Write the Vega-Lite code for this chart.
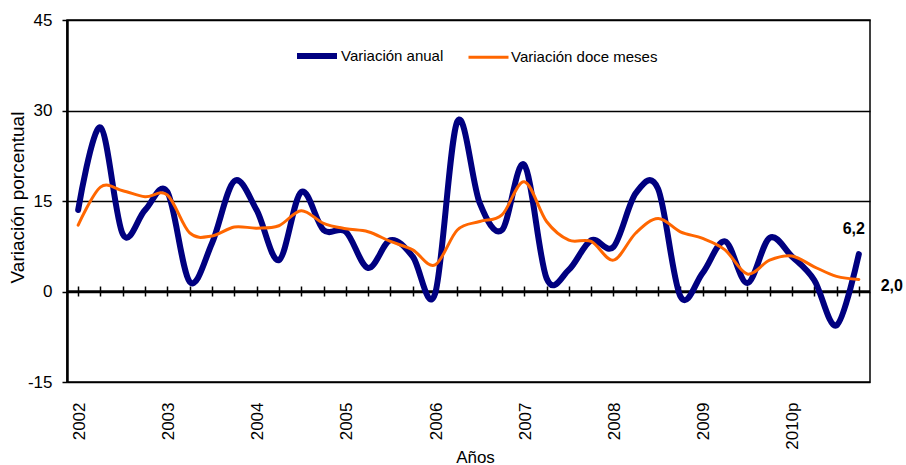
{
  "$schema": "https://vega.github.io/schema/vega-lite/v6.json",
  "width": 803,
  "height": 362,
  "autosize": {"type": "none"},
  "padding": {"left": 67, "top": 20, "right": 36, "bottom": 83},
  "config": {
    "font": "Liberation Sans",
    "view": {"stroke": "#000000", "strokeWidth": 1.5},
    "locale": {"number": {"decimal": ",", "thousands": ".", "grouping": [3], "currency": ["$", ""], "minus": "-"}}
  },
  "datasets": {
    "serie": [
      {"p": "2002 T1", "serie": "Variación anual", "v": 13.5},
      {"p": "2002 T2", "serie": "Variación anual", "v": 27.2},
      {"p": "2002 T3", "serie": "Variación anual", "v": 9.5},
      {"p": "2002 T4", "serie": "Variación anual", "v": 13.5},
      {"p": "2003 T1", "serie": "Variación anual", "v": 16.5},
      {"p": "2003 T2", "serie": "Variación anual", "v": 1.6},
      {"p": "2003 T3", "serie": "Variación anual", "v": 8.0},
      {"p": "2003 T4", "serie": "Variación anual", "v": 18.3},
      {"p": "2004 T1", "serie": "Variación anual", "v": 13.5},
      {"p": "2004 T2", "serie": "Variación anual", "v": 5.2},
      {"p": "2004 T3", "serie": "Variación anual", "v": 16.5},
      {"p": "2004 T4", "serie": "Variación anual", "v": 10.2},
      {"p": "2005 T1", "serie": "Variación anual", "v": 9.9},
      {"p": "2005 T2", "serie": "Variación anual", "v": 3.9},
      {"p": "2005 T3", "serie": "Variación anual", "v": 8.5},
      {"p": "2005 T4", "serie": "Variación anual", "v": 5.8},
      {"p": "2006 T1", "serie": "Variación anual", "v": -0.4},
      {"p": "2006 T2", "serie": "Variación anual", "v": 28.2},
      {"p": "2006 T3", "serie": "Variación anual", "v": 14.7},
      {"p": "2006 T4", "serie": "Variación anual", "v": 10.2},
      {"p": "2007 T1", "serie": "Variación anual", "v": 21.0},
      {"p": "2007 T2", "serie": "Variación anual", "v": 2.2},
      {"p": "2007 T3", "serie": "Variación anual", "v": 3.6},
      {"p": "2007 T4", "serie": "Variación anual", "v": 8.5},
      {"p": "2008 T1", "serie": "Variación anual", "v": 7.4},
      {"p": "2008 T2", "serie": "Variación anual", "v": 16.3},
      {"p": "2008 T3", "serie": "Variación anual", "v": 17.0},
      {"p": "2008 T4", "serie": "Variación anual", "v": -0.8},
      {"p": "2009 T1", "serie": "Variación anual", "v": 3.1},
      {"p": "2009 T2", "serie": "Variación anual", "v": 8.3},
      {"p": "2009 T3", "serie": "Variación anual", "v": 1.4},
      {"p": "2009 T4", "serie": "Variación anual", "v": 8.9},
      {"p": "2010p T1", "serie": "Variación anual", "v": 5.8},
      {"p": "2010p T2", "serie": "Variación anual", "v": 1.9},
      {"p": "2010p T3", "serie": "Variación anual", "v": -5.6},
      {"p": "2010p T4", "serie": "Variación anual", "v": 6.2},
      {"p": "2002 T1", "serie": "Variación doce meses", "v": 11.0},
      {"p": "2002 T2", "serie": "Variación doce meses", "v": 17.3},
      {"p": "2002 T3", "serie": "Variación doce meses", "v": 16.7},
      {"p": "2002 T4", "serie": "Variación doce meses", "v": 15.7},
      {"p": "2003 T1", "serie": "Variación doce meses", "v": 16.0},
      {"p": "2003 T2", "serie": "Variación doce meses", "v": 9.7},
      {"p": "2003 T3", "serie": "Variación doce meses", "v": 9.2},
      {"p": "2003 T4", "serie": "Variación doce meses", "v": 10.7},
      {"p": "2004 T1", "serie": "Variación doce meses", "v": 10.5},
      {"p": "2004 T2", "serie": "Variación doce meses", "v": 10.9},
      {"p": "2004 T3", "serie": "Variación doce meses", "v": 13.4},
      {"p": "2004 T4", "serie": "Variación doce meses", "v": 11.3},
      {"p": "2005 T1", "serie": "Variación doce meses", "v": 10.4},
      {"p": "2005 T2", "serie": "Variación doce meses", "v": 9.9},
      {"p": "2005 T3", "serie": "Variación doce meses", "v": 8.3},
      {"p": "2005 T4", "serie": "Variación doce meses", "v": 6.9},
      {"p": "2006 T1", "serie": "Variación doce meses", "v": 4.4},
      {"p": "2006 T2", "serie": "Variación doce meses", "v": 10.2},
      {"p": "2006 T3", "serie": "Variación doce meses", "v": 11.6},
      {"p": "2006 T4", "serie": "Variación doce meses", "v": 12.7},
      {"p": "2007 T1", "serie": "Variación doce meses", "v": 18.2},
      {"p": "2007 T2", "serie": "Variación doce meses", "v": 11.6},
      {"p": "2007 T3", "serie": "Variación doce meses", "v": 8.5},
      {"p": "2007 T4", "serie": "Variación doce meses", "v": 8.3},
      {"p": "2008 T1", "serie": "Variación doce meses", "v": 5.2},
      {"p": "2008 T2", "serie": "Variación doce meses", "v": 9.7},
      {"p": "2008 T3", "serie": "Variación doce meses", "v": 12.1},
      {"p": "2008 T4", "serie": "Variación doce meses", "v": 9.9},
      {"p": "2009 T1", "serie": "Variación doce meses", "v": 8.8},
      {"p": "2009 T2", "serie": "Variación doce meses", "v": 6.9},
      {"p": "2009 T3", "serie": "Variación doce meses", "v": 2.9},
      {"p": "2009 T4", "serie": "Variación doce meses", "v": 5.2},
      {"p": "2010p T1", "serie": "Variación doce meses", "v": 5.9},
      {"p": "2010p T2", "serie": "Variación doce meses", "v": 4.1},
      {"p": "2010p T3", "serie": "Variación doce meses", "v": 2.5},
      {"p": "2010p T4", "serie": "Variación doce meses", "v": 2.0}
    ]
  },
  "resolve": {"axis": {"x": "independent"}},
  "layer": [
    {
      "data": {"values": [{"cero": 0}]},
      "mark": {"type": "rule", "color": "#000000", "strokeWidth": 2.5},
      "encoding": {
        "y": {"field": "cero", "type": "quantitative", "scale": {"domain": [-15, 45], "nice": false}}
      }
    },
    {
      "data": {"name": "serie"},
      "mark": {"type": "line", "interpolate": "cardinal", "strokeCap": "round", "strokeJoin": "round"},
      "encoding": {
        "x": {
          "field": "p",
          "type": "ordinal",
          "sort": null,
          "scale": {"paddingInner": 0, "paddingOuter": 0},
          "axis": {
            "title": "Años",
            "titleFontSize": 17,
            "titleFontWeight": "normal",
            "titleColor": "#000000",
            "titleAlign": "center",
            "titleBaseline": "alphabetic",
            "titleX": 408,
            "titleY": 80,
            "domain": false,
            "ticks": false,
            "labelAngle": -90,
            "labelAlign": "right",
            "labelBaseline": "middle",
            "labelPadding": 20,
            "labelFontSize": 17,
            "labelColor": "#000000",
            "labelOffset": 1,
            "labelExpr": "slice(datum.label, -2) == 'T1' ? split(datum.label, ' ')[0] : ''"
          }
        },
        "y": {
          "field": "v",
          "type": "quantitative",
          "scale": {"domain": [-15, 45], "nice": false},
          "axis": {
            "values": [-15, 0, 15, 30, 45],
            "title": "Variación porcentual",
            "titleFontSize": 19,
            "titleFontWeight": "normal",
            "titleColor": "#000000",
            "titleAngle": -90,
            "titleAlign": "center",
            "titleBaseline": "middle",
            "titleX": -50,
            "titleY": 177,
            "labelFontSize": 17,
            "labelColor": "#000000",
            "labelPadding": 10,
            "tickSize": 5,
            "tickColor": "#000000",
            "tickWidth": 1.5,
            "domainColor": "#000000",
            "domainWidth": 2.5,
            "grid": true,
            "gridColor": "#000000",
            "gridWidth": 1.5,
            "gridOpacity": 1
          }
        },
        "color": {
          "field": "serie",
          "type": "nominal",
          "scale": {"domain": ["Variación anual", "Variación doce meses"], "range": ["#000080", "#FF6600"]},
          "legend": {
            "title": null,
            "orient": "none",
            "direction": "horizontal",
            "legendX": 227,
            "legendY": 13,
            "symbolType": "stroke",
            "symbolSize": 1600,
            "labelFontSize": 15,
            "labelColor": "#000000",
            "labelOffset": 1,
            "columnPadding": 18,
            "padding": 0
          }
        },
        "strokeWidth": {
          "field": "serie",
          "type": "nominal",
          "scale": {"domain": ["Variación anual", "Variación doce meses"], "range": [6, 3]},
          "legend": {
            "title": null,
            "orient": "none",
            "direction": "horizontal",
            "legendX": 227,
            "legendY": 13,
            "symbolType": "stroke",
            "symbolSize": 1600,
            "labelFontSize": 15,
            "labelColor": "#000000",
            "labelOffset": 1,
            "columnPadding": 18,
            "padding": 0
          }
        }
      }
    },
    {
      "data": {"name": "serie"},
      "transform": [{"filter": "datum.p == '2010p T4' && datum.serie == 'Variación anual'"}],
      "mark": {"type": "text", "fontWeight": "bold", "fontSize": 16, "color": "#000000", "dx": -5, "dy": -25},
      "encoding": {
        "x": {
          "field": "p",
          "type": "ordinal",
          "sort": null,
          "axis": {
            "orient": "bottom",
            "offset": -96,
            "domain": false,
            "labels": false,
            "title": null,
            "bandPosition": 0,
            "tickSize": 10,
            "tickWidth": 1.5,
            "tickColor": "#000000"
          }
        },
        "y": {"field": "v", "type": "quantitative"},
        "text": {"field": "v", "type": "quantitative", "format": ".1f"}
      }
    },
    {
      "data": {"name": "serie"},
      "transform": [{"filter": "datum.p == '2010p T4' && datum.serie == 'Variación doce meses'"}],
      "mark": {"type": "text", "fontWeight": "bold", "fontSize": 16, "color": "#000000", "dx": 33, "dy": 7},
      "encoding": {
        "x": {"field": "p", "type": "ordinal", "sort": null, "axis": null},
        "y": {"field": "v", "type": "quantitative"},
        "text": {"field": "v", "type": "quantitative", "format": ".1f"}
      }
    }
  ]
}
